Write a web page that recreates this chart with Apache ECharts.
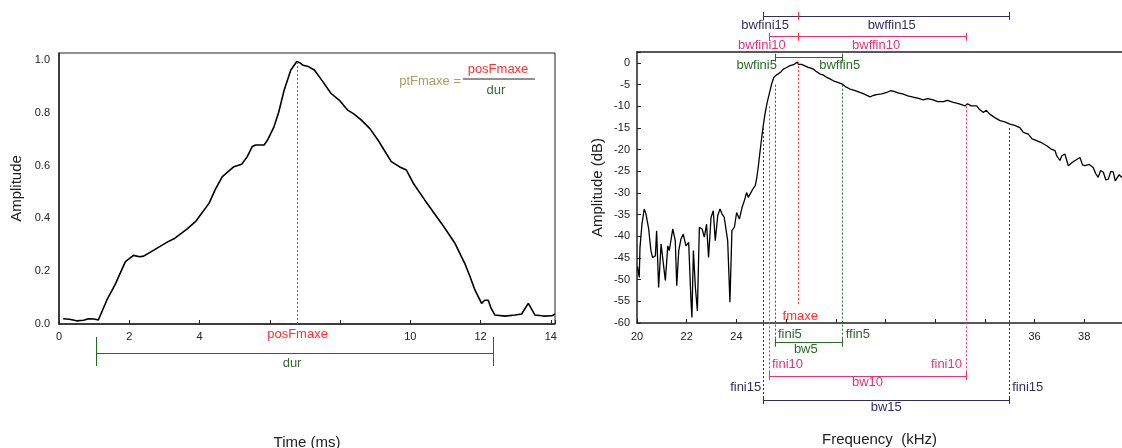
<!DOCTYPE html>
<html>
<head>
<meta charset="utf-8">
<title>Envelope and spectrum parameters</title>
<script src="https://cdn.jsdelivr.net/npm/echarts@6/dist/echarts.min.js"></script>
<style>
  html, body { margin: 0; padding: 0; background: #fff; }
  #chart { width: 1122px; height: 448px; }
</style>
</head>
<body>
<div id="chart"></div>
<script>
// ---- left panel: amplitude envelope ----
const timeMs = [0.12, 0.3, 0.5, 0.7, 0.84, 1.0, 1.12, 1.36, 1.6, 1.89, 2.12, 2.3, 2.41, 2.7, 3.08, 3.3, 3.65, 3.9,
  4.27, 4.45, 4.65, 4.98, 5.2, 5.36, 5.5, 5.6, 5.84, 5.95, 6.12, 6.25, 6.41, 6.6, 6.77, 6.85, 6.95, 7.1, 7.27,
  7.5, 7.74, 8.0, 8.22, 8.4, 8.6, 8.85, 9.08, 9.25, 9.46, 9.7, 9.89, 10.1, 10.41, 10.65, 10.89, 11.1, 11.27,
  11.4, 11.55, 11.7, 11.84, 12.03, 12.12, 12.22, 12.3, 12.41, 12.7, 12.98, 13.17, 13.36, 13.55, 13.8, 14.03, 14.12];
const amplitude = [0.02, 0.018, 0.012, 0.014, 0.02, 0.019, 0.015, 0.09, 0.15, 0.236, 0.26, 0.255, 0.257, 0.28, 0.31, 0.325, 0.36, 0.39,
  0.457, 0.51, 0.558, 0.596, 0.605, 0.634, 0.672, 0.678, 0.678, 0.7, 0.747, 0.8, 0.886, 0.962, 0.994, 0.99, 0.98, 0.975, 0.962,
  0.92, 0.874, 0.845, 0.81, 0.795, 0.773, 0.74, 0.697, 0.66, 0.615, 0.595, 0.583, 0.53, 0.47, 0.425, 0.381, 0.34, 0.306,
  0.27, 0.23, 0.18, 0.129, 0.078, 0.09, 0.09, 0.06, 0.034, 0.03, 0.034, 0.038, 0.078, 0.034, 0.03, 0.031, 0.038];
const timeTicks = [0, 2, 4, 10, 12, 14];
const posFmaxe = 6.79;
const durStart = 1.07;
const durEnd = 12.37;

// ---- right panel: spectrum ----
const freqKHz = [20.02, 20.09, 20.12, 20.2, 20.29, 20.36, 20.47, 20.56, 20.63, 20.74, 20.79, 20.87, 20.97, 21.03, 21.14,
  21.24, 21.3, 21.44, 21.54, 21.6, 21.68, 21.77, 21.86, 21.97, 22.08, 22.17, 22.21, 22.27, 22.35, 22.43, 22.51, 22.62,
  22.71, 22.8, 22.88, 22.98, 23.07, 23.15, 23.25, 23.34, 23.42, 23.51, 23.65, 23.74, 23.82, 23.92, 24.01, 24.12, 24.23,
  24.32, 24.41, 24.48, 24.55, 24.66, 24.76, 24.82, 24.88, 24.95, 25.02, 25.08, 25.15, 25.24, 25.32, 25.42, 25.51, 25.6,
  25.69, 25.8, 25.89, 26.0, 26.16, 26.3, 26.36, 26.45, 26.5, 26.56, 26.62, 26.69, 26.78, 26.89, 27.0, 27.09, 27.2, 27.36,
  27.5, 27.63, 27.75, 27.9, 28.05, 28.24, 28.4, 28.57, 28.75, 28.97, 29.15, 29.38, 29.5, 29.65, 29.85, 30.05, 30.2, 30.31,
  30.5, 30.72, 30.9, 31.12, 31.3, 31.52, 31.7, 31.92, 32.1, 32.33, 32.5, 32.73, 32.9, 33.0, 33.2, 33.3, 33.45, 33.67,
  33.8, 33.94, 34.05, 34.2, 34.4, 34.61, 34.8, 35.01, 35.2, 35.41, 35.55, 35.75, 35.9, 36.08, 36.25, 36.49, 36.65, 36.82,
  36.9, 37.02, 37.1, 37.22, 37.36, 37.5, 37.63, 37.83, 37.93, 38.03, 38.2, 38.36, 38.46, 38.56, 38.66, 38.77, 38.87,
  38.97, 39.07, 39.17, 39.25, 39.3, 39.4, 39.52];
const levelDb = [-47, -49.5, -42.6, -37.2, -33.7, -34.8, -38.3, -43.3, -44.9, -44.5, -38.7, -51.8, -41.8, -41.4, -50.2,
  -42.2, -43.3, -38.3, -41.0, -51.4, -43.3, -40.6, -39.5, -42.2, -41.4, -54.5, -58.7, -43.3, -51.8, -57.2, -37.9, -38.3,
  -40.2, -37.2, -44.9, -35.6, -34.1, -41.0, -35.2, -33.7, -34.8, -35.6, -41.0, -55.2, -38.7, -37.9, -34.5, -36.0, -33.3,
  -31.8, -29.9, -31.0, -30.6, -29.1, -28.3, -26.5, -24.0, -20.5, -17.2, -14.5, -11.8, -9.1, -7.2, -4.8, -3.3, -2.8,
  -2.5, -2.0, -1.4, -1.1, -0.6, -0.4, -0.1, 0.2, -0.3, -0.6, -0.3, -0.2, -0.7, -1.0, -1.2, -1.4, -1.9, -2.5,
  -2.8, -3.3, -3.6, -4.1, -4.4, -4.8, -5.5, -6.0, -6.3, -6.8, -7.2, -7.8, -7.5, -7.3, -7.1, -6.8, -6.4, -6.5,
  -6.9, -7.2, -7.6, -7.9, -8.1, -8.5, -8.2, -8.5, -8.9, -8.9, -8.6, -9.1, -9.3, -9.5, -9.9, -9.4, -9.9, -9.9,
  -10.8, -11.4, -10.9, -11.8, -12.6, -13.3, -13.6, -14.1, -14.4, -14.9, -16.0, -16.4, -17.5, -17.9, -18.3, -19.1, -19.8, -20.2,
  -21.5, -22.5, -21.4, -21.0, -23.7, -23.0, -22.5, -21.8, -23.5, -23.7, -23.4, -24.1, -25.5, -26.4, -24.8, -25.2, -27.0,
  -26.8, -25.0, -25.2, -27.2, -26.8, -25.8, -26.4];
const freqTicks = [20, 22, 24, 36, 38];
const fmaxe = 26.49;
const fini5 = 25.55, ffin5 = 28.28;
const fini10 = 25.31, ffin10 = 33.24;
const fini15 = 25.08, ffin15 = 34.98;

// layout (pixels)
const W = 1122, H = 448;
const L = { left: 59, width: 496, top: 53, height: 271, xMax: 14.12, yMax: 1.0265 };
const R = { left: 637, top: 52, height: 271, xMin: 20, xMax: 39.52, yMin: -60, yMax: 2.54 };

const FONT = '"Liberation Sans", Arial, sans-serif';
const NAVY = '#303060', PINK = '#e2337b', GREEN = '#2a6a2a', RED = '#ff3030', OLIVE = '#a3a35c';

// value range of a full-height overlay sharing the y scale of a grid
function overlayRange(g, yMin) {
  const upp = (g.yMax - yMin) / g.height;
  return { upp, max: g.yMax + g.top * upp, min: g.yMax - (H - g.top) * upp, at: (py) => g.yMax - (py - g.top) * upp };
}
const LO = overlayRange(L, 0);
const RO = overlayRange(R, R.yMin);

function seg(x1, y1, x2, y2, color, dotted) {
  return [
    { coord: [x1, y1], lineStyle: { color: color, width: 1, type: dotted ? [2, 2] : 'solid' } },
    { coord: [x2, y2] }
  ];
}
function bracket(x1, x2, y, half, color, extraTicks) {
  const out = [seg(x1, y, x2, y, color), seg(x1, y - half, x1, y + half, color), seg(x2, y - half, x2, y + half, color)];
  (extraTicks || []).forEach(t => out.push(seg(t.x, y - half, t.x, y + half, t.color)));
  return out;
}
function txt(x, y, text, color, align, dx) {
  return {
    value: [x, y],
    label: { formatter: text, color: color, align: align || 'center', offset: [dx || 0, 0] }
  };
}

const peakAmp = Math.max(...amplitude);
const peakDb = Math.max(...levelDb);

// left overlay marks
const durY = LO.at(352.8);
const leftLines = [
  seg(durStart, durY, durEnd, durY, '#1f6f1f'),
  seg(durStart, LO.at(337), durStart, LO.at(366), '#1f6f1f'),
  seg(durEnd, LO.at(337), durEnd, LO.at(366), '#1f6f1f')
];
const leftTexts = [
  txt(posFmaxe, LO.at(334), 'posFmaxe', RED),
  txt((durStart + durEnd) / 2, LO.at(363), 'dur', '#356935', 'center', -3)
];

// right overlay marks
const rh = 4 * RO.upp;
const rightLines = [].concat(
  [
    seg(fini15, -15, fini15, RO.at(400), NAVY, true),
    seg(ffin15, -15, ffin15, RO.at(400), NAVY, true),
    seg(fini10, -10, fini10, RO.at(376), PINK, true),
    seg(ffin10, -10, ffin10, RO.at(376), PINK, true),
    seg(fini5, -5, fini5, RO.at(342.7), GREEN, true),
    seg(ffin5, -5, ffin5, RO.at(342.7), GREEN, true),
    seg(fmaxe, peakDb, fmaxe, RO.at(305), RED, true)
  ],
  bracket(fini15, ffin15, RO.at(16), rh, NAVY, [{ x: fmaxe, color: RED }]),
  bracket(fini10, ffin10, RO.at(36.7), rh, PINK, [{ x: fmaxe, color: RED }]),
  bracket(fini5, ffin5, RO.at(57.7), rh, GREEN),
  bracket(fini5, ffin5, RO.at(342.7), rh, GREEN),
  bracket(fini10, ffin10, RO.at(376), rh, PINK),
  bracket(fini15, ffin15, RO.at(400), rh, NAVY)
);
const rightTexts = [
  txt(fini15, RO.at(25), 'bwfini15', NAVY, 'center', 2),
  txt((fmaxe + ffin15) / 2, RO.at(25), 'bwffin15', NAVY, 'center', -12),
  txt(fini10, RO.at(45), 'bwfini10', PINK, 'center', -7),
  txt((fmaxe + ffin10) / 2, RO.at(45), 'bwffin10', PINK, 'center', -6),
  txt(fini5, RO.at(65.7), 'bwfini5', GREEN, 'right', 2),
  txt(ffin5, RO.at(65.7), 'bwffin5', GREEN, 'center', -3),
  txt(fmaxe, RO.at(316), 'fmaxe', RED, 'center', 2),
  txt(fini5, RO.at(334), 'fini5', GREEN, 'left', 3),
  txt(ffin5, RO.at(334), 'ffin5', GREEN, 'left', 3),
  txt((fini5 + ffin5) / 2, RO.at(349.3), 'bw5', GREEN, 'center', -3),
  txt(fini10, RO.at(364), 'fini10', PINK, 'left', 3),
  txt(ffin10, RO.at(364), 'fini10', PINK, 'right', -4),
  txt((fini10 + ffin10) / 2, RO.at(382.7), 'bw10', PINK),
  txt(fini15, RO.at(387.3), 'fini15', NAVY, 'right', -2),
  txt(ffin15, RO.at(387.3), 'fini15', NAVY, 'left', 3),
  txt((fini15 + ffin15) / 2, RO.at(407), 'bw15', NAVY)
];

const axisLine = { show: true, onZero: false, lineStyle: { color: '#222', width: 1.5 } };
const tickLabel = { color: '#222', fontSize: 11, fontFamily: FONT };
const nameStyle = { color: '#222', fontSize: 15, fontFamily: FONT };
const hidden = { show: false };

function textSeries(xi, yi, data, lines) {
  return {
    type: 'scatter', xAxisIndex: xi, yAxisIndex: yi, symbolSize: 0, silent: true, z: 5,
    itemStyle: { opacity: 1 },
    label: { show: true, position: 'inside', verticalAlign: 'middle', fontSize: 13, fontFamily: FONT },
    data: data,
    markLine: { silent: true, symbol: ['none', 'none'], label: { show: false }, animation: false, data: lines }
  };
}

const gridBase = { containLabel: false, outerBoundsMode: 'none' };

const chart = echarts.init(document.getElementById('chart'), null, { renderer: 'canvas' });
chart.setOption({
  animation: false,
  backgroundColor: '#fff',
  textStyle: { fontFamily: FONT },
  grid: [
    Object.assign({ left: L.left, width: L.width, top: L.top, height: L.height, show: true, borderColor: '#222', borderWidth: 1 }, gridBase),
    Object.assign({ left: L.left, width: L.width, top: 0, height: H }, gridBase),
    Object.assign({ left: R.left, width: W - R.left, top: R.top, height: R.height }, gridBase),
    Object.assign({ left: R.left, width: W - R.left, top: 0, height: H }, gridBase)
  ],
  xAxis: [
    {
      gridIndex: 0, type: 'value', min: 0, max: L.xMax, interval: 2,
      axisLine: axisLine, axisTick: { inside: true, length: 4, lineStyle: { color: '#222' } }, splitLine: hidden,
      axisLabel: Object.assign({ margin: 7, formatter: v => timeTicks.includes(v) ? String(v) : '' }, tickLabel),
      name: 'Time (ms)', nameLocation: 'middle', nameGap: 111, nameTextStyle: nameStyle
    },
    { gridIndex: 1, type: 'value', min: 0, max: L.xMax, show: false },
    {
      gridIndex: 2, type: 'value', min: R.xMin, max: R.xMax, interval: 2,
      axisLine: axisLine, axisTick: { inside: true, length: 4, lineStyle: { color: '#222' } }, splitLine: hidden,
      axisLabel: Object.assign({ margin: 8, formatter: v => freqTicks.includes(v) ? String(v) : '' }, tickLabel),
      name: 'Frequency  (kHz)', nameLocation: 'middle', nameGap: 109, nameTextStyle: nameStyle
    },
    {
      gridIndex: 2, type: 'value', position: 'top', min: R.xMin, max: R.xMax,
      axisLine: axisLine, axisTick: hidden, axisLabel: hidden, splitLine: hidden
    },
    { gridIndex: 3, type: 'value', min: R.xMin, max: R.xMax, show: false }
  ],
  yAxis: [
    {
      gridIndex: 0, type: 'value', min: 0, max: L.yMax, interval: 0.2,
      axisLine: axisLine, axisTick: hidden, splitLine: hidden,
      axisLabel: Object.assign({ margin: 9, formatter: v => Math.abs(v * 5 - Math.round(v * 5)) < 1e-6 ? v.toFixed(1) : '' }, tickLabel),
      name: 'Amplitude', nameLocation: 'middle', nameGap: 35, nameTextStyle: nameStyle
    },
    { gridIndex: 1, type: 'value', min: LO.min, max: LO.max, show: false },
    {
      gridIndex: 2, type: 'value', min: R.yMin, max: R.yMax, interval: 5,
      axisLine: axisLine, axisTick: { inside: true, length: 4, lineStyle: { color: '#222' } }, splitLine: hidden,
      axisLabel: Object.assign({ margin: 7, formatter: v => (v <= 0 && v % 5 === 0) ? String(v) : '' }, tickLabel),
      name: 'Amplitude (dB)', nameLocation: 'middle', nameGap: 32, nameTextStyle: nameStyle
    },
    { gridIndex: 3, type: 'value', min: RO.min, max: RO.max, show: false }
  ],
  series: [
    {
      type: 'line', xAxisIndex: 0, yAxisIndex: 0, showSymbol: false, silent: true, z: 3,
      lineStyle: { color: '#000', width: 1.6 },
      data: timeMs.map((t, i) => [t, amplitude[i]]),
      markLine: {
        silent: true, symbol: ['none', 'none'], label: { show: false },
        data: [seg(posFmaxe, 0, posFmaxe, peakAmp, RED, true)]
      }
    },
    textSeries(1, 1, leftTexts, leftLines),
    {
      type: 'line', xAxisIndex: 2, yAxisIndex: 2, showSymbol: false, silent: true, z: 3,
      lineStyle: { color: '#000', width: 1.3 },
      data: freqKHz.map((f, i) => [f, levelDb[i]])
    },
    textSeries(4, 3, rightTexts, rightLines)
  ],
  graphic: [
    { type: 'text', x: 461, y: 81, style: { text: 'ptFmaxe =', fill: OLIVE, font: '13px ' + FONT, align: 'right', verticalAlign: 'middle' } },
    { type: 'text', x: 498, y: 69, style: { text: 'posFmaxe', fill: RED, font: '13px ' + FONT, align: 'center', verticalAlign: 'middle' } },
    { type: 'line', shape: { x1: 463, y1: 79, x2: 535, y2: 79 }, style: { stroke: '#222', lineWidth: 1 } },
    { type: 'text', x: 496, y: 90, style: { text: 'dur', fill: '#356935', font: '13px ' + FONT, align: 'center', verticalAlign: 'middle' } }
  ]
});
window.addEventListener('resize', () => chart.resize());
</script>
</body>
</html>
